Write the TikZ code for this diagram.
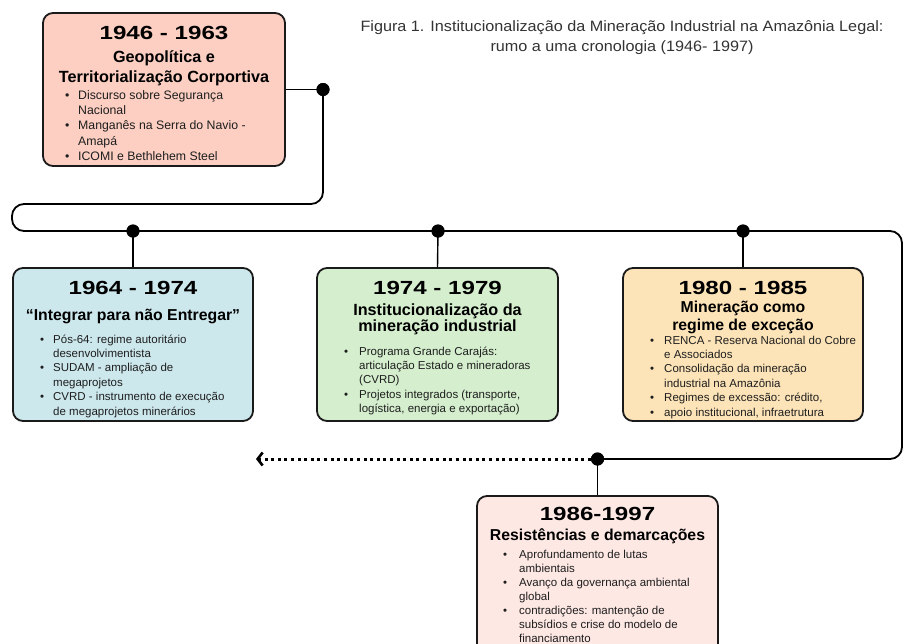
\documentclass[tikz,border=0pt]{standalone}
\usepackage{fontspec}
\setmainfont{Liberation Sans}
\usepackage{graphicx}
\usetikzlibrary{arrows.meta}
\definecolor{boxA}{HTML}{FCCFC2}
\definecolor{boxB}{HTML}{CDE8ED}
\definecolor{boxC}{HTML}{D5EFCE}
\definecolor{boxD}{HTML}{FDE4B8}
\definecolor{boxE}{HTML}{FDE8E4}
\definecolor{bordercol}{HTML}{1A1A1A}
\definecolor{bodytext}{HTML}{1E1E1E}
\definecolor{titletext}{HTML}{333333}
\newcommand\yr[1]{{\fontsize{19}{19}\selectfont\bfseries\scalebox{1.27}[1]{#1}}}
\newcommand\ttl[1]{\scalebox{1.08}[1]{#1}}
\newcommand\blst[2]{\begin{tabular}[t]{@{}p{#1}@{}l@{}}#2\end{tabular}}
\begin{document}
\begin{tikzpicture}[x=1pt,y=-1pt,
  box/.style={draw=bordercol, line width=1.8pt, rounded corners=10pt, inner sep=0pt},
  yeartxt/.style={anchor=base, inner sep=0pt},
  headtxt/.style={anchor=base, inner sep=0pt, font=\fontsize{15.8}{19}\selectfont\bfseries},
  listtxt/.style={anchor=base west, inner sep=0pt, text=bodytext, font=\fontsize{11.5}{14.4}\selectfont},
  listone/.style={anchor=base west, inner sep=0pt, text=bodytext, font=\fontsize{12.3}{15.2}\selectfont},
  titletxt/.style={anchor=base, inner sep=0pt, text=titletext, font=\fontsize{15}{19}\selectfont},
  tl/.style={line width=1.8pt, rounded corners=12pt},
  conn/.style={line width=1.4pt},
  dot/.style={circle, fill=black, inner sep=0pt, minimum size=13pt},
  dotted arrow/.style={line width=3pt, dash pattern=on 3pt off 3.6pt, -{Straight Barb[length=5pt,width=13pt,line width=2.6pt]}}
]
\useasboundingbox (0,0) rectangle (904,643);
\clip (0,0) rectangle (904,643);

% title
\node[titletxt] (title1) at (622,31) {\ttl{Figura 1. Institucionalização da Mineração Industrial na Amazônia Legal:}};
\node[titletxt] (title2) at (622,51) {\ttl{rumo a uma cronologia (1946- 1997)}};

% boxes
\node[box, fill=boxA, minimum width=242pt, minimum height=153pt] (b1) at (164,89.5) {};
\node[box, fill=boxB, minimum width=240pt, minimum height=153pt] (b2) at (133,344.5) {};
\node[box, fill=boxC, minimum width=241pt, minimum height=153pt] (b3) at (437.5,344.5) {};
\node[box, fill=boxD, minimum width=240pt, minimum height=153pt] (b4) at (743,344.5) {};
\node[box, fill=boxE, minimum width=241pt, minimum height=169pt] (b5) at (597.5,580.5) {};

% timeline coordinates
\coordinate (tA) at (323,204);
\coordinate (tB) at (12,204);
\coordinate (tC) at (12,231);
\coordinate (tD) at (902,231);
\coordinate (tE) at (902,459);
\coordinate (arrowend) at (256,459);

\node[dot] (d0) at (323,89.5) {};
\node[dot] (d1) at (133,231) {};
\node[dot] (d2) at (438,231) {};
\node[dot] (d3) at (743,231) {};
\node[dot] (d4) at (597.5,459) {};

\draw[tl] (d0.center) -- (tA) -- (tB) -- (tC) -- (tD) -- (tE) -- (d4.center);
\draw[dotted arrow] (d4.center) -- (arrowend);
\draw[conn] (b1.east) -- (d0.center);
\draw[conn] (d1.center) -- (b2.north);
\draw[conn] (d2.center) -- (b3.north);
\draw[conn] (d3.center) -- (b4.north);
\draw[conn] (d4.center) -- (b5.north);
\node[dot] at (d0) {};
\node[dot] at (d1) {};
\node[dot] at (d2) {};
\node[dot] at (d3) {};
\node[dot] at (d4) {};

% box 1
\node[yeartxt] (y1) at (164,39) {\yr{1946 - 1963}};
\node[headtxt, font=\fontsize{16.2}{19}\selectfont\bfseries] (h1a) at (164,62) {Geopolítica e};
\node[headtxt, font=\fontsize{16.2}{19}\selectfont\bfseries] (h1b) at (164,82) {Territorialização Corportiva};
\node[listone] (l1) at (65,99.5) {\blst{13pt}{%
\textbullet & Discurso sobre Segurança\\
 & Nacional\\
\textbullet & Manganês na Serra do Navio -\\
 & Amapá\\
\textbullet & ICOMI e Bethlehem Steel}};

% box 2
\node[yeartxt] (y2) at (133,294) {\yr{1964 - 1974}};
\node[headtxt] (h2) at (133,320) {“Integrar para não Entregar”};
\node[listtxt] (l2) at (40,343) {\blst{13pt}{%
\textbullet & Pós-64: regime autoritário\\
 & desenvolvimentista\\
\textbullet & SUDAM - ampliação de\\
 & megaprojetos\\
\textbullet & CVRD - instrumento de execução\\
 & de megaprojetos minerários}};

% box 3
\node[yeartxt] (y3) at (437.5,294) {\yr{1974 - 1979}};
\node[headtxt, font=\fontsize{16.2}{19}\selectfont\bfseries] (h3a) at (437.5,315) {Institucionalização da};
\node[headtxt, font=\fontsize{16.2}{19}\selectfont\bfseries] (h3b) at (437.5,331) {mineração industrial};
\node[listtxt] (l3) at (344,355) {\blst{15pt}{%
\textbullet & Programa Grande Carajás:\\
 & articulação Estado e mineradoras\\
 & (CVRD)\\
\textbullet & Projetos integrados (transporte,\\
 & logística, energia e exportação)}};

% box 4
\node[yeartxt] (y4) at (743,294) {\yr{1980 - 1985}};
\node[headtxt] (h4a) at (743,312) {Mineração como};
\node[headtxt] (h4b) at (743,330) {regime de exceção};
\node[listtxt] (l4) at (650,344) {\blst{14pt}{%
\textbullet & RENCA - Reserva Nacional do Cobre\\
 & e Associados\\
\textbullet & Consolidação da mineração\\
 & industrial na Amazônia\\
\textbullet & Regimes de excessão: crédito,\\
\textbullet & apoio institucional, infraetrutura}};

% box 5
\node[yeartxt] (y5) at (597.5,520) {\yr{1986-1997}};
\node[headtxt] (h5) at (597.5,540) {Resistências e demarcações};
\node[listtxt, font=\fontsize{11.5}{14}\selectfont] (l5) at (503,558) {\blst{16pt}{%
\textbullet & Aprofundamento de lutas\\
 & ambientais\\
\textbullet & Avanço da governança ambiental\\
 & global\\
\textbullet & contradições: mantenção de\\
 & subsídios e crise do modelo de\\
 & financiamento}};
\end{tikzpicture}
\end{document}
